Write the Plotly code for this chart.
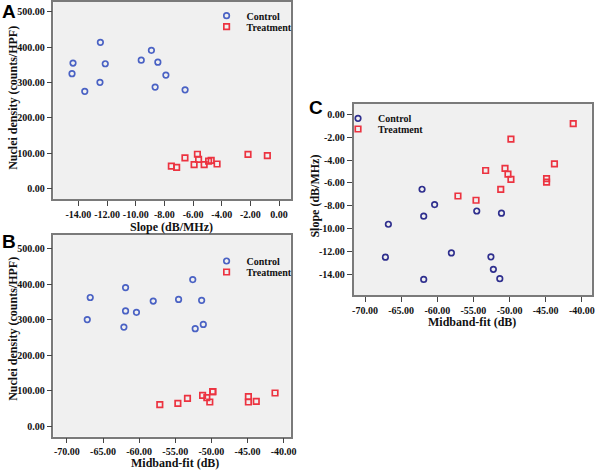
import plotly.graph_objects as go

# ---------------- data ----------------
group_names = ["Control", "Treatment"]

control_slope = [-14.45, -14.38, -13.56, -12.47, -12.50, -12.13, -9.62, -8.91, -8.46, -8.65, -7.90, -6.56]
control_midband = [-61.88, -51.35, -52.24, -52.58, -67.18, -58.05, -66.77, -61.88, -54.54, -51.12, -60.37, -62.11]
control_density = [325, 355, 275, 413.5, 300.5, 353, 363, 391, 357.5, 287, 321, 279.3]

treatment_slope = [-7.52, -7.15, -6.57, -5.93, -5.70, -5.62, -5.23, -4.92, -4.74, -4.33, -2.17, -0.82]
treatment_midband = [-54.64, -57.14, -51.22, -44.88, -49.81, -44.88, -50.22, -53.31, -50.63, -43.79, -49.81, -41.19]
treatment_density = [64, 60.5, 86.8, 67.8, 97.3, 83, 67.8, 78, 80.2, 69.8, 97.2, 93.2]

ticks_density = [0, 100, 200, 300, 400, 500]
ticks_slope_x = [-14, -12, -10, -8, -6, -4, -2, 0]
ticks_midband = [-70, -65, -60, -55, -50, -45, -40]
ticks_slope_y = [0, -2, -4, -6, -8, -10, -12, -14]

title_density = "Nuclei density (counts/HPF)"
title_slope = "Slope (dB/MHz)"
title_midband = "Midband-fit (dB)"
panel_letters = ["A", "B", "C"]

# ---------------- styling ----------------
W, H = 600, 470
SERIF = "Liberation Serif"
SANS = "Liberation Sans"
BLUE = "#4a62c4"
NAVY = "#2f2f8e"
RED = "#ec3340"

def px_x(p):
    return p / W

def px_y(p):
    return 1 - p / H

def fmt(vals):
    return [f"{v:.2f}" for v in vals]

fig = go.Figure()

def add(x, y, xa, ya, name, color, symbol, legend):
    fig.add_trace(go.Scatter(
        x=x, y=y, mode="markers", name=name, xaxis=xa, yaxis=ya,
        legend=legend,
        marker=dict(symbol=symbol, size=5.5, color=color,
                    line=dict(color=color, width=1.7)),
    ))

# Panel A: slope vs density
add(control_slope, control_density, "x", "y", group_names[0], BLUE, "circle-open", "legend")
add(treatment_slope, treatment_density, "x", "y", group_names[1], RED, "square-open", "legend2")
# Panel B: midband vs density
add(control_midband, control_density, "x2", "y2", group_names[0], BLUE, "circle-open", "legend3")
add(treatment_midband, treatment_density, "x2", "y2", group_names[1], RED, "square-open", "legend4")
# Panel C: midband vs slope
add(control_midband, control_slope, "x3", "y3", group_names[0], NAVY, "circle-open", "legend5")
add(treatment_midband, treatment_slope, "x3", "y3", group_names[1], RED, "square-open", "legend6")

tickfont = dict(family=SERIF, size=10, color="#111111", weight="bold")
axis_common = dict(
    showline=True, mirror=True, linecolor="#7a7a7a", linewidth=1.5,
    ticks="outside", ticklen=5, tickwidth=1, tickcolor="#444444",
    showgrid=False, zeroline=False, tickfont=tickfont, fixedrange=True,
)

xdomAB = [px_x(53), px_x(293)]
fig.update_layout(
    xaxis=dict(domain=xdomAB, anchor="y", range=[-15.75, 0.8],
               tickvals=ticks_slope_x, ticktext=fmt(ticks_slope_x), **axis_common),
    yaxis=dict(domain=[px_y(199), px_y(2)], anchor="x", range=[-29.1, 527.4],
               tickvals=ticks_density, ticktext=fmt(ticks_density), **axis_common),
    xaxis2=dict(domain=xdomAB, anchor="y2", range=[-71.87, -39.04],
                tickvals=ticks_midband, ticktext=fmt(ticks_midband), **axis_common),
    yaxis2=dict(domain=[px_y(436.7), px_y(235)], anchor="x2", range=[-30.2, 539.5],
                tickvals=ticks_density, ticktext=fmt(ticks_density), **axis_common),
    xaxis3=dict(domain=[px_x(356.7), px_x(597.7)], anchor="y3", range=[-71.59, -38.63],
                tickvals=ticks_midband, ticktext=fmt(ticks_midband), **axis_common),
    yaxis3=dict(domain=[px_y(295), px_y(104)], anchor="x3", range=[-15.81, 0.9],
                tickvals=ticks_slope_y, ticktext=fmt(ticks_slope_y), **axis_common),
)

legfont = dict(family=SERIF, size=10, color="#111111", weight="bold")
def leg(xp, yp):
    return dict(x=px_x(xp), y=px_y(yp), xanchor="left", yanchor="middle",
                bgcolor="rgba(0,0,0,0)", borderwidth=0, font=legfont,
                itemclick=False, itemdoubleclick=False)

fig.update_layout(
    legend=leg(208, 15.7),
    legend2=leg(208, 26.7),
    legend3=leg(208, 261),
    legend4=leg(208, 272),
    legend5=leg(341, 118.3),
    legend6=leg(341, 129),
)

titlefont = dict(family=SERIF, size=12, color="#111111", weight="bold")
def ann(text, xp, yp, angle=0, font=titlefont):
    fig.add_annotation(text=text, x=px_x(xp), y=px_y(yp), xref="paper", yref="paper",
                       xanchor="center", yanchor="middle", showarrow=False,
                       textangle=angle, font=font)

ann(title_slope, 173, 226.7)
ann(title_density, 12, 98, -90)
ann(title_midband, 176, 463.3)
ann(title_density, 12, 329, -90)
ann(title_midband, 476.5, 321.7)
ann(title_slope, 317.3, 196, -90)

letterfont = dict(family=SANS, size=19, color="#000000", weight="bold")
ann(panel_letters[0], 8.3, 11.8, font=letterfont)
ann(panel_letters[1], 8.5, 241.8, font=letterfont)
ann(panel_letters[2], 318.3, 107.8, font=letterfont)

fig.update_layout(
    width=W, height=H, margin=dict(l=0, r=0, t=0, b=0),
    paper_bgcolor="white", plot_bgcolor="#f0f0f0",
    showlegend=True,
)

fig.write_html(
    "out.html",
    config={"displayModeBar": False},
    post_script="document.body.style.margin='0';document.body.style.overflow='hidden';",
)
